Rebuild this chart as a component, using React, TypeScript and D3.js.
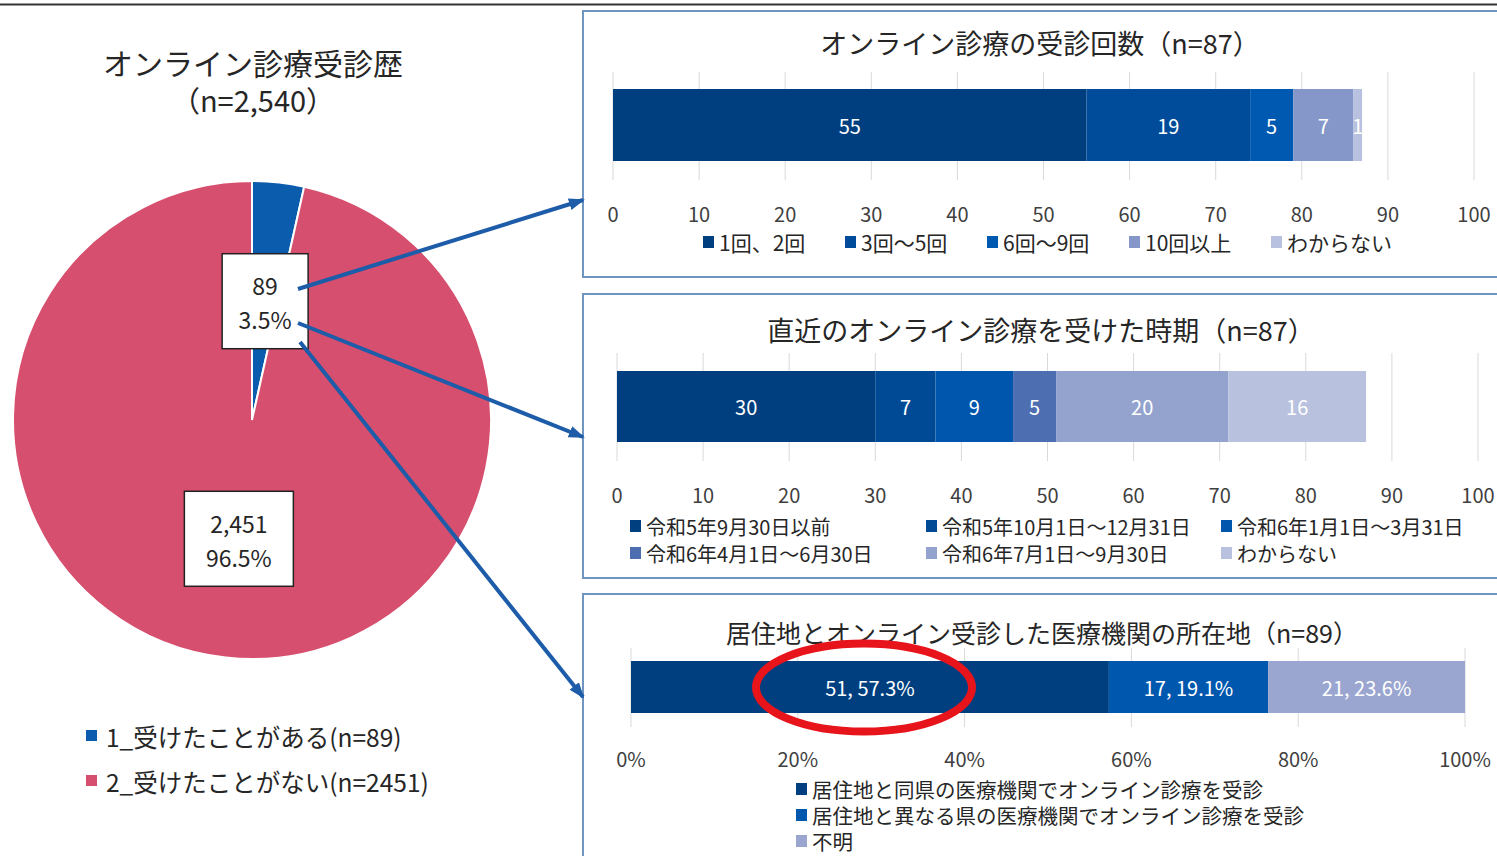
import React from "react";
import * as d3 from "d3";

// ---------- DATA ----------
const pieTitle = ["オンライン診療受診歴", "（n=2,540）"];
const pieCategories = ["1_受けたことがある(n=89)", "2_受けたことがない(n=2451)"];
const pieValues = [89, 2451];
const pieColors = ["#0B5CAD", "#D74F6E"];

const countTitle = "オンライン診療の受診回数（n=87）";
const countCategories = ["1回、2回", "3回～5回", "6回～9回", "10回以上", "わからない"];
const countValues = [55, 19, 5, 7, 1];
const countColors = ["#003F7F", "#004C9A", "#0059B0", "#8597C9", "#B8C1DF"];

const periodTitle = "直近のオンライン診療を受けた時期（n=87）";
const periodCategories = [
  "令和5年9月30日以前",
  "令和5年10月1日～12月31日",
  "令和6年1月1日～3月31日",
  "令和6年4月1日～6月30日",
  "令和6年7月1日～9月30日",
  "わからない",
];
const periodValues = [30, 7, 9, 5, 20, 16];
const periodColors = ["#003F7F", "#004A95", "#0056AC", "#4D6FB2", "#93A3CE", "#B8C1DD"];

const locTitle = "居住地とオンライン受診した医療機関の所在地（n=89）";
const locCategories = [
  "居住地と同県の医療機関でオンライン診療を受診",
  "居住地と異なる県の医療機関でオンライン診療を受診",
  "不明",
];
const locValues = [51, 17, 21];
const locPercents = [57.3, 19.1, 23.6];
const locColors = ["#003F7F", "#0057AE", "#9AA6D0"];

const countTicks = [0, 10, 20, 30, 40, 50, 60, 70, 80, 90, 100];
const pctTicks = [0, 20, 40, 60, 80, 100];

const FONT = "'Noto Sans CJK JP', 'Noto Sans', sans-serif";
const ARROW = "#1D5CA8";
const PANEL_BORDER = "#6F95C2";
const GRID = "#D9D9D9";
const TEXT = "#262626";

type LegendItem = { x: number; y: number };

function BarPanel(props: {
  top: number;
  bottom: number;
  title: string;
  titleX: number;
  titleY: number;
  titleSize: number;
  x0: number;
  x1: number;
  barTop: number;
  barBottom: number;
  gridTop: number;
  gridBottom: number;
  tickY: number;
  ticks: number[];
  tickFormat: (v: number) => string;
  values: number[];
  labels: string[];
  colors: string[];
  categories: string[];
  legendPos: LegendItem[];
  legendSize: number;
}) {
  const p = props;
  const x = d3.scaleLinear().domain([0, p.ticks[p.ticks.length - 1]]).range([p.x0, p.x1]);
  const cum = d3.cumsum(p.values);
  const starts = p.values.map((v, i) => cum[i] - v);
  return (
    <g>
      <rect x={583} y={p.top} width={1000} height={p.bottom - p.top} fill="#fff" stroke={PANEL_BORDER} strokeWidth={2} />
      <text x={p.titleX} y={p.titleY} textAnchor="middle" dominantBaseline="central" fontSize={p.titleSize} fill={TEXT}>
        {p.title}
      </text>
      {p.ticks.map((t) => (
        <line key={"g" + t} x1={x(t)} x2={x(t)} y1={p.gridTop} y2={p.gridBottom} stroke={GRID} strokeWidth={1} />
      ))}
      {p.values.map((v, i) => (
        <rect key={"b" + i} x={x(starts[i])} y={p.barTop} width={x(starts[i] + v) - x(starts[i])} height={p.barBottom - p.barTop} fill={p.colors[i]} />
      ))}
      {p.values.map((v, i) => (
        <text key={"l" + i} x={(x(starts[i]) + x(starts[i] + v)) / 2} y={(p.barTop + p.barBottom) / 2} textAnchor="middle" dominantBaseline="central" fontSize={20} fill="#fff">
          {p.labels[i]}
        </text>
      ))}
      {p.ticks.map((t) => (
        <text key={"t" + t} x={x(t)} y={p.tickY} textAnchor="middle" dominantBaseline="central" fontSize={20} fill="#404040">
          {p.tickFormat(t)}
        </text>
      ))}
      {p.categories.map((c, i) => (
        <g key={"lg" + i}>
          <rect x={p.legendPos[i].x} y={p.legendPos[i].y - 6} width={11} height={12} fill={p.colors[i]} />
          <text x={p.legendPos[i].x + 16} y={p.legendPos[i].y} dominantBaseline="central" fontSize={p.legendSize} fill={TEXT}>
            {c}
          </text>
        </g>
      ))}
    </g>
  );
}

export default function App() {
  const cx = 252;
  const cy = 420;
  const R = 239;
  const total = d3.sum(pieValues);
  const arcs = d3.pie<number>().sort(null).value((d) => d)(pieValues);
  const arc = d3.arc<d3.PieArcDatum<number>>().innerRadius(0).outerRadius(R);
  const boxW = [86, 109];
  const boxH = 95;
  const fmt = d3.format(",");

  const arrows = [
    { x1: 298, y1: 289, x2: 583, y2: 200 },
    { x1: 298, y1: 323, x2: 583, y2: 437 },
    { x1: 300, y1: 342, x2: 583, y2: 697 },
  ];

  const locLabels = locValues.map((v, i) => `${v}, ${locPercents[i]}%`);

  return (
    <div style={{ position: "absolute", left: 0, top: 0 }}>
      <svg width={1497} height={856} style={{ display: "block", fontFamily: FONT }}>
        <defs>
          <marker id="ah" markerUnits="userSpaceOnUse" markerWidth={16} markerHeight={16} refX={14} refY={8} orient="auto">
            <path d="M0,2 L16,8 L0,14 Z" fill={ARROW} />
          </marker>
        </defs>
        <rect width={1497} height={856} fill="#fff" />
        <line x1={0} x2={1497} y1={4.5} y2={4.5} stroke="#333" strokeWidth={2} />

        {/* Pie */}
        <text x={253} y={62} textAnchor="middle" dominantBaseline="central" fontSize={30} fill={TEXT}>
          {pieTitle[0]}
        </text>
        <text x={253} y={99} textAnchor="middle" dominantBaseline="central" fontSize={29} fill={TEXT}>
          {pieTitle[1]}
        </text>
        <g transform={`translate(${cx},${cy})`}>
          {arcs.map((a, i) => (
            <path key={i} d={arc(a) || ""} fill={pieColors[i]} stroke="#fff" strokeWidth={2} />
          ))}
        </g>
        {arcs.map((a, i) => {
          const [mx, my] = arc.centroid(a);
          const bx = cx + mx;
          const by = cy + my;
          return (
            <g key={"pl" + i}>
              <rect x={bx - boxW[i] / 2} y={by - boxH / 2} width={boxW[i]} height={boxH} fill="#fff" stroke="#222" strokeWidth={1.5} />
              <text x={bx} y={by - 16} textAnchor="middle" dominantBaseline="central" fontSize={23} fill={TEXT}>
                {fmt(pieValues[i])}
              </text>
              <text x={bx} y={by + 18} textAnchor="middle" dominantBaseline="central" fontSize={23} fill={TEXT}>
                {d3.format(".1%")(pieValues[i] / total)}
              </text>
            </g>
          );
        })}
        {pieCategories.map((c, i) => (
          <g key={"pleg" + i}>
            <rect x={86} y={730 + i * 45} width={11} height={11} fill={pieColors[i]} />
            <text x={106} y={736 + i * 45} dominantBaseline="central" fontSize={24.5} fill={TEXT}>
              {c}
            </text>
          </g>
        ))}

        {/* Panels */}
        <BarPanel
          top={11}
          bottom={277}
          title={countTitle}
          titleX={1040}
          titleY={42}
          titleSize={27}
          x0={613}
          x1={1474}
          barTop={89}
          barBottom={161}
          gridTop={72}
          gridBottom={180}
          tickY={213}
          ticks={countTicks}
          tickFormat={(v) => String(v)}
          values={countValues}
          labels={countValues.map(String)}
          colors={countColors}
          categories={countCategories}
          legendPos={[
            { x: 703, y: 242 },
            { x: 845, y: 242 },
            { x: 987, y: 242 },
            { x: 1129, y: 242 },
            { x: 1271, y: 242 },
          ]}
          legendSize={21}
        />
        <BarPanel
          top={294}
          bottom={578}
          title={periodTitle}
          titleX={1041}
          titleY={329}
          titleSize={27}
          x0={617}
          x1={1478}
          barTop={371}
          barBottom={442}
          gridTop={353}
          gridBottom={461}
          tickY={494}
          ticks={countTicks}
          tickFormat={(v) => String(v)}
          values={periodValues}
          labels={periodValues.map(String)}
          colors={periodColors}
          categories={periodCategories}
          legendPos={[
            { x: 630, y: 526 },
            { x: 926, y: 526 },
            { x: 1221, y: 526 },
            { x: 630, y: 553 },
            { x: 926, y: 553 },
            { x: 1221, y: 553 },
          ]}
          legendSize={20}
        />
        <BarPanel
          top={594}
          bottom={900}
          title={locTitle}
          titleX={1042}
          titleY={632}
          titleSize={25}
          x0={631}
          x1={1465}
          barTop={661}
          barBottom={713}
          gridTop={648}
          gridBottom={727}
          tickY={758}
          ticks={pctTicks}
          tickFormat={(v) => v + "%"}
          values={locPercents}
          labels={locLabels}
          colors={locColors}
          categories={locCategories}
          legendPos={[
            { x: 796, y: 789 },
            { x: 796, y: 815 },
            { x: 796, y: 841 },
          ]}
          legendSize={20.5}
        />

        {/* Red highlight ellipse */}
        <ellipse cx={864} cy={687.5} rx={108} ry={44} fill="none" stroke="#E8141B" strokeWidth={8} />

        {/* Arrows */}
        {arrows.map((a, i) => (
          <line key={"ar" + i} x1={a.x1} y1={a.y1} x2={a.x2} y2={a.y2} stroke={ARROW} strokeWidth={4} markerEnd="url(#ah)" />
        ))}
      </svg>
    </div>
  );
}
